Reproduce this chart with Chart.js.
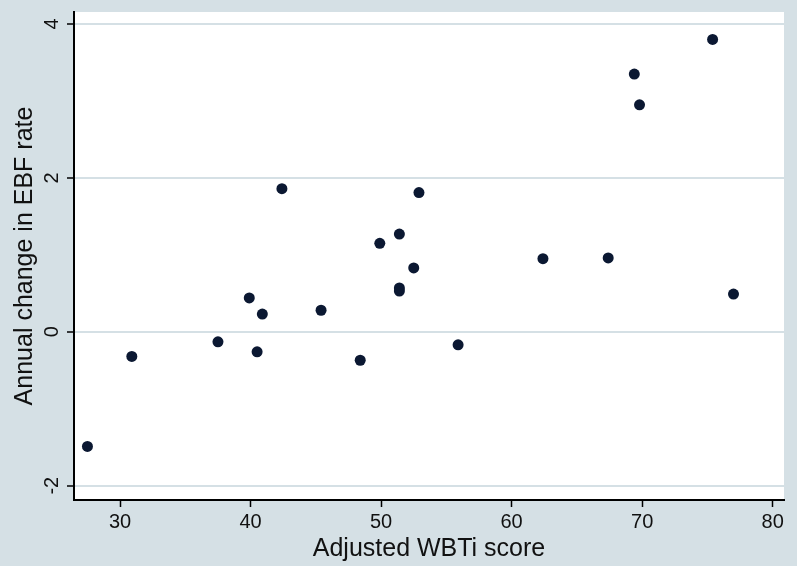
<!DOCTYPE html>
<html lang="en">
<head>
    <meta charset="UTF-8">
    <title>EBF vs WBTi</title>
    <script src="https://cdn.jsdelivr.net/npm/chart.js"></script>
    <style>
        body { margin: 0; background: #d5e0e5; }
        #box { width: 797px; height: 566px; }
    </style>
</head>
<body>
<div id="box"><canvas id="grafico" width="797" height="566"></canvas></div>

<script>
    // valores
    var scoreWBTi = [27.5, 30.9, 37.5, 39.9, 40.5, 40.9, 42.4, 45.4, 48.4, 49.9, 51.4, 51.4, 51.4, 52.5, 52.9, 55.9, 62.4, 67.4, 69.4, 69.8, 75.4, 77.0]
    var mudancaEBF = [-1.49, -0.32, -0.13, 0.44, -0.26, 0.23, 1.86, 0.28, -0.37, 1.15, 1.27, 0.53, 0.57, 0.83, 1.81, -0.17, 0.95, 0.96, 3.35, 2.95, 3.80, 0.49]
    var ticksX = [30, 40, 50, 60, 70, 80]
    var ticksY = [-2, 0, 2, 4]

    var fundo = '#d5e0e5'
    var fonte = "'Liberation Sans', Arial, sans-serif"

    var pontos = []
    for (var i = 0; i < scoreWBTi.length; i++) {
        pontos.push({ x: scoreWBTi[i], y: mudancaEBF[i] })
    }

    // pinta o fundo e a area branca do grafico
    const fundoPlugin = {
        id: 'fundo',
        beforeDraw(chart) {
            const ctx = chart.ctx
            const a = chart.chartArea
            ctx.save()
            ctx.fillStyle = fundo
            ctx.fillRect(0, 0, chart.width, chart.height)
            ctx.fillStyle = '#ffffff'
            ctx.fillRect(a.left, a.top, a.right - a.left, a.bottom - a.top)
            ctx.restore()
        }
    }

    // rotulos do eixo y girados (como no Stata)
    const rotulosY = {
        id: 'rotulosY',
        afterDraw(chart) {
            const ctx = chart.ctx
            const esc = chart.scales.y
            ctx.save()
            ctx.fillStyle = '#111'
            ctx.font = '20px ' + fonte
            ctx.textAlign = 'center'
            ctx.textBaseline = 'alphabetic'
            ticksY.forEach(v => {
                ctx.save()
                ctx.translate(58, esc.getPixelForValue(v))
                ctx.rotate(-Math.PI / 2)
                ctx.fillText(String(v), 0, 0)
                ctx.restore()
            })
            ctx.restore()
        }
    }

    const config = {
        type: 'scatter',
        data: {
            datasets: [{
                label: 'EBF',
                data: pontos,
                backgroundColor: '#0b1832',
                borderWidth: 0,
                pointRadius: 5.5,
                pointHoverRadius: 5.5
            }]
        },
        options: {
            responsive: false,
            animation: false,
            layout: { padding: { left: 0, top: 12, right: 13, bottom: 0 } },
            plugins: {
                legend: { display: false },
                tooltip: { enabled: false }
            },
            scales: {
                x: {
                    type: 'linear',
                    min: 26.47,
                    max: 80.87,
                    afterBuildTicks: s => { s.ticks = ticksX.map(v => ({ value: v })) },
                    afterFit: s => { s.height = 66 },
                    border: { display: true, color: '#000', width: 2 },
                    grid: { drawOnChartArea: false, tickColor: '#000', tickLength: 7, tickWidth: 1.5 },
                    ticks: { color: '#111', font: { family: fonte, size: 20 }, padding: 3, maxRotation: 0 },
                    title: {
                        display: true,
                        text: 'Adjusted WBTi score',
                        color: '#111',
                        font: { family: fonte, size: 25 },
                        padding: { top: 0, bottom: 2 }
                    }
                },
                y: {
                    type: 'linear',
                    min: -2.186,
                    max: 4.156,
                    afterBuildTicks: s => { s.ticks = ticksY.map(v => ({ value: v })) },
                    afterFit: s => { s.width = 74 },
                    border: { display: true, color: '#000', width: 2 },
                    grid: { color: fundo, lineWidth: 2, tickColor: '#000', tickLength: 7, tickWidth: 1.5 },
                    ticks: { display: false },
                    title: {
                        display: true,
                        text: 'Annual change in EBF rate',
                        color: '#111',
                        font: { family: fonte, size: 25 },
                        padding: { top: 10, bottom: 0 }
                    }
                }
            }
        },
        plugins: [fundoPlugin, rotulosY]
    }

    const grafico = new Chart(document.getElementById('grafico'), config)
</script>
</body>
</html>
